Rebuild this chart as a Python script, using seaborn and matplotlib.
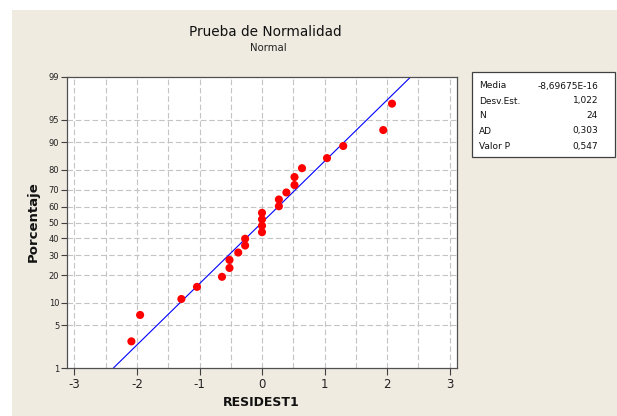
import numpy as np
import pandas as pd
import matplotlib
matplotlib.use("Agg")
import matplotlib.pyplot as plt
from matplotlib.patches import Rectangle
import seaborn as sns
from statistics import NormalDist

# ---- data ----
residuals = [-2.09, -1.95, -1.29, -1.04, -0.64, -0.52, -0.52, -0.38, -0.27, -0.27,
             0.0, 0.0, 0.0, 0.0, 0.27, 0.27, 0.39, 0.52, 0.52, 0.64,
             1.04, 1.30, 1.94, 2.08]
y_ticks_pct = [1, 5, 10, 20, 30, 40, 50, 60, 70, 80, 90, 95, 99]
x_ticks = [-3, -2, -1, 0, 1, 2, 3]
stat_labels = ["Media", "Desv.Est.", "N", "AD", "Valor P"]
stat_values = ["-8,69675E-16", "1,022", "24", "0,303", "0,547"]
mean_val = -8.69675e-16
sd_val = 1.022

title = "Prueba de Normalidad"
subtitle = "Normal"
xlabel = "RESIDEST1"
ylabel = "Porcentaje"

# ---- probability plot positions (median ranks) ----
nd = NormalDist()
n = len(residuals)
xs = np.sort(np.array(residuals))
pp = [(i - 0.3) / (n + 0.4) for i in range(1, n + 1)]
zs = [nd.inv_cdf(p) for p in pp]
df = pd.DataFrame({"x": xs, "z": zs})

zlo, zhi = nd.inv_cdf(0.01), nd.inv_cdf(0.99)
zline = np.linspace(zlo, zhi, 50)
fit = pd.DataFrame({"x": mean_val + sd_val * zline, "z": zline})

# ---- style ----
sns.set_theme(style="white")
plt.rcParams["font.family"] = ["DejaVu Sans"]

W, H = 617, 416
bg = "#EFEBE1"
fig = plt.figure(figsize=(W / 100, H / 100), dpi=100, facecolor="white")
fig.patches.append(Rectangle((12 / W, 0), 1 - 12 / W, 1 - 10 / H, transform=fig.transFigure,
                             facecolor=bg, edgecolor="none", zorder=-10))

ax = fig.add_axes([67 / W, 1 - 368 / H, (457 - 67) / W, (368 - 77) / H])
ax.set_facecolor("white")

# grid
for gx in np.arange(-3, 3.01, 0.5):
    ax.axvline(gx, color="#C4C4C4", lw=0.8, ls=(0, (5, 2.5)), zorder=0)
ytick_z = [nd.inv_cdf(p / 100) for p in y_ticks_pct]
for gz in ytick_z[1:-1]:
    ax.axhline(gz, color="#C4C4C4", lw=0.8, ls=(0, (5, 2.5)), zorder=0)

sns.lineplot(data=fit, x="x", y="z", ax=ax, color="#0000FF", lw=0.8, sort=False, zorder=2)
sns.scatterplot(data=df, x="x", y="z", ax=ax, color="#FF0000", s=34, edgecolor="none",
                linewidth=0, zorder=3)

ax.set_xlim(-3.12, 3.12)
ax.set_ylim(zlo, zhi)
ax.set_xticks(x_ticks)
ax.set_xticklabels([str(t) if t >= 0 else "-" + str(abs(t)) for t in x_ticks])
ax.set_yticks(ytick_z)
ax.set_yticklabels([str(p) for p in y_ticks_pct])
ax.tick_params(axis="x", direction="out", length=5, width=0.8, color="#404040",
               labelsize=8.5, pad=2, labelcolor="#222222", bottom=True)
ax.tick_params(axis="y", direction="out", length=4, width=0.8, color="#404040",
               labelsize=6, pad=1.5, labelcolor="#222222", left=True)
for s in ax.spines.values():
    s.set_visible(True)
    s.set_color("#505050")
    s.set_linewidth(0.9)

ax.set_xlabel(xlabel, fontsize=9, fontweight="bold", color="#111111")
ax.set_ylabel(ylabel, fontsize=9.5, fontweight="bold", color="#111111")
ax.xaxis.label.set_va("center")
ax.yaxis.label.set_va("center")
ax.xaxis.set_label_coords((261 - 67) / 390, (368 - 403) / 291)
ax.yaxis.set_label_coords((33 - 67) / 390, (368 - 222) / 291)

# titles
fig.text(265 / W, 1 - 32 / H, title, ha="center", va="center", fontsize=9.8, color="#111111")
fig.text(268 / W, 1 - 48 / H, subtitle, ha="center", va="center", fontsize=7.3, color="#222222")

# stats box
bx0, bx1, by0, by1 = 472, 615, 72, 157
fig.patches.append(Rectangle((bx0 / W, 1 - by1 / H), (bx1 - bx0) / W, (by1 - by0) / H,
                             transform=fig.transFigure, facecolor="white",
                             edgecolor="#404040", lw=0.9, zorder=5))
row_y = [86, 101, 116, 131, 146.5]
for lab, val, ry in zip(stat_labels, stat_values, row_y):
    fig.text(479 / W, 1 - ry / H, lab, ha="left", va="center", fontsize=6.5,
             color="#111111", zorder=6)
    fig.text(598 / W, 1 - ry / H, val, ha="right", va="center", fontsize=6.5,
             color="#111111", zorder=6)

fig.savefig("out.png", dpi=100, facecolor=fig.get_facecolor())
